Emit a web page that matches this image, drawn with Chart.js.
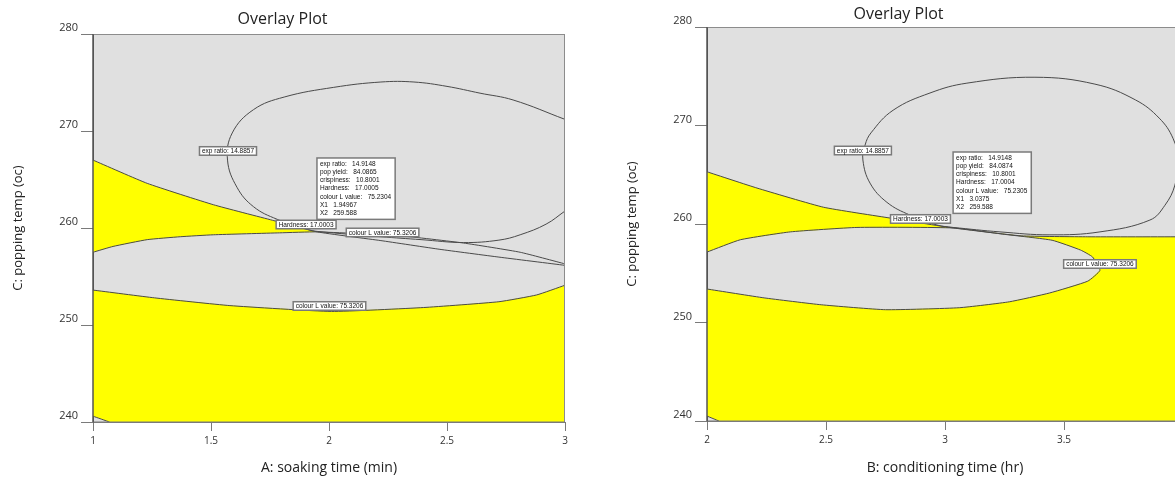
<!DOCTYPE html>
<html lang="en">
<head>
<meta charset="UTF-8">
<title>Overlay Plot</title>
<script src="https://cdn.jsdelivr.net/npm/chart.js"></script>
<style>
  html, body { margin: 0; padding: 0; background: #fff; overflow: hidden; }
  body { width: 1175px; height: 477px; position: relative; }
  .plot { position: absolute; top: 0; height: 477px; }
  #soakBox { left: 0; width: 590px; }
  #condBox { left: 614px; width: 600px; }
</style>
</head>
<body>
<div class="plot" id="soakBox"><canvas id="soakChart"></canvas></div>
<div class="plot" id="condBox"><canvas id="condChart"></canvas></div>
<script>
// tick labels
const tempTicks = [240, 250, 260, 270, 280];
const soakTicks = [1, 1.5, 2, 2.5, 3];
const condTicks = [2, 2.5, 3, 3.5, 4];

// ---- left plot: A soaking time (min) vs C popping temp ----
const soakHardness = [[1, 267.0], [1.23, 264.6], [1.51, 262.4], [1.76, 260.8], [1.95, 259.6],
  [2.22, 258.7], [2.47, 257.8], [2.72, 257.0], [3, 256.15]];
const soakColourUpper = [[1, 257.5], [1.085, 258.1], [1.23, 258.8], [1.37, 259.1], [1.51, 259.3],
  [1.79, 259.5], [1.95, 259.6], [2.30, 259.2], [2.57, 258.45], [2.81, 257.5], [3, 256.3]];
const soakColourLower = [[1, 253.6], [1.26, 252.8], [1.58, 252.0], [2.01, 251.4], [2.40, 251.8],
  [2.72, 252.4], [2.88, 253.1], [3, 254.1]];
const soakExpRatio = [[3, 271.2], [2.78, 273.2], [2.64, 273.9], [2.50, 274.6], [2.36, 275.05],
  [2.22, 275.05], [2.02, 274.5], [1.81, 273.5], [1.68, 272.2], [1.59, 269.8], [1.57, 267.0],
  [1.61, 264.2], [1.68, 262.2], [1.78, 260.9], [1.91, 259.85], [1.95, 259.65], [2.22, 259.1],
  [2.39, 258.8], [2.57, 258.5], [2.72, 258.75], [2.81, 259.3], [2.92, 260.4], [3, 261.75]];
const soakCorner = [[1, 240.6], [1.07, 240]];

const soakTags = [
  { x: 1.572, y: 267.94, text: "exp ratio: 14.8857" },
  { x: 1.903, y: 260.36, text: "Hardness: 17.0003" },
  { x: 2.227, y: 259.54, text: "colour L value: 75.3206" },
  { x: 2.002, y: 251.96, text: "colour L value: 75.3206" }
];
const soakSummary = ["exp ratio:   14.9148", "pop yield:   84.0865", "crispiness:   10.8001",
  "Hardness:   17.0005", "colour L value:   75.2304", "X1   1.94967", "X2   259.588"];
const soakSummaryAt = [1.949, 267.22];

// ---- right plot: B conditioning time (hr) vs C popping temp ----
const condHardness = [[2, 265.3], [2.21, 263.65], [2.49, 261.7], [2.77, 260.6], [3.034, 259.6],
  [3.32, 258.8], [3.6, 258.7], [4, 258.7]];
const condColourL = [[2, 257.15], [2.14, 258.4], [2.35, 259.2], [2.63, 259.65], [3.034, 259.6],
  [3.25, 258.95], [3.45, 258.35], [3.57, 257.35], [3.62, 256.65], [3.651, 255.3], [3.60, 254.2],
  [3.44, 253.0], [3.27, 252.1], [3.06, 251.5], [2.75, 251.3], [2.48, 251.8], [2.24, 252.5], [2, 253.4]];
const condExpRatio = [[3.034, 259.65], [2.966, 259.9], [2.853, 260.9], [2.756, 262.2], [2.685, 264.15],
  [2.655, 266.5], [2.664, 268.0], [2.689, 269.25], [2.782, 271.55], [2.937, 273.3], [3.092, 274.3],
  [3.378, 274.9], [3.63, 274.2], [3.80, 272.6], [3.90, 270.75], [3.958, 268.7], [3.979, 266.5],
  [3.966, 263.95], [3.924, 261.9], [3.861, 260.4], [3.651, 259.2], [3.441, 258.9], [3.231, 259.2],
  [3.034, 259.65]];
const condCorner = [[2, 240.5], [2.05, 240]];

const condTags = [
  { x: 2.655, y: 267.46, text: "exp ratio: 14.8857" },
  { x: 2.897, y: 260.51, text: "Hardness: 17.0003" },
  { x: 3.651, y: 255.94, text: "colour L value: 75.3206" }
];
const condSummary = ["exp ratio:   14.9148", "pop yield:   84.0874", "crispiness:   10.8001",
  "Hardness:   17.0004", "colour L value:   75.2305", "X1   3.0375", "X2   259.588"];
const condSummaryAt = [3.034, 267.31];

Chart.defaults.font.family = "'Open Sans', sans-serif";

const toXY = pts => pts.map(([x, y]) => ({ x, y }));

function contour(pts, tension) {
  return { data: toXY(pts), showLine: true, borderColor: "#4a4a4a", borderWidth: 1,
    pointRadius: 0, fill: false, tension: tension || 0.15 };
}

function region(pts) {
  return { data: toXY(pts), showLine: true, borderColor: "rgba(0,0,0,0)", borderWidth: 1,
    backgroundColor: "#ffff00", fill: "shape", pointRadius: 0, tension: 0 };
}

// grey background of the design space
const backdrop = {
  id: "backdrop",
  beforeDraw(chart) {
    const { ctx, chartArea: a } = chart;
    ctx.save();
    ctx.fillStyle = "#e0e0e0";
    ctx.fillRect(a.left, a.top, a.right - a.left, a.bottom - a.top);
    ctx.restore();
  }
};

// plot frame on top of the filled regions
const frame = {
  id: "frame",
  afterDatasetsDraw(chart) {
    const { ctx, chartArea: a } = chart;
    ctx.save();
    ctx.lineWidth = 1;
    ctx.strokeStyle = "#8c8c8c";
    ctx.beginPath();
    ctx.moveTo(a.left, a.top + 0.5); ctx.lineTo(a.right, a.top + 0.5);
    ctx.moveTo(a.right - 0.5, a.top); ctx.lineTo(a.right - 0.5, a.bottom);
    ctx.stroke();
    ctx.strokeStyle = "#7a7a7a";
    ctx.beginPath();
    ctx.moveTo(a.left, a.bottom); ctx.lineTo(a.right, a.bottom);
    ctx.stroke();
    ctx.strokeStyle = "#555";
    ctx.lineWidth = 1.5;
    ctx.beginPath();
    ctx.moveTo(a.left, a.top); ctx.lineTo(a.left, a.bottom);
    ctx.stroke();
    ctx.restore();
  }
};

function drawBox(ctx, x, y, w, h) {
  ctx.fillStyle = "#fff";
  ctx.fillRect(x, y, w, h);
  ctx.strokeStyle = "#7a7a7a";
  ctx.lineWidth = 1.5;
  ctx.strokeRect(x, y, w, h);
}

// contour labels and the optimum summary flag
function makeNotes(tags, summary, at) {
  return {
    id: "notes",
    afterDatasetsDraw(chart) {
      const { ctx } = chart;
      const xs = chart.scales.x, ys = chart.scales.y;
      ctx.save();
      ctx.font = "6.5px 'Liberation Sans', Arial, sans-serif";
      ctx.textBaseline = "middle";
      for (const t of tags) {
        const w = ctx.measureText(t.text).width + 5;
        const h = 8.5;
        const cx = xs.getPixelForValue(t.x), cy = ys.getPixelForValue(t.y);
        drawBox(ctx, cx - w / 2, cy - h / 2, w, h);
        ctx.fillStyle = "#111";
        ctx.fillText(t.text, cx - w / 2 + 2.5, cy + 0.5);
      }
      const lh = 8.2;
      const w = Math.max(...summary.map(s => ctx.measureText(s).width)) + 7;
      const h = summary.length * lh + 4;
      const bx = xs.getPixelForValue(at[0]), by = ys.getPixelForValue(at[1]);
      drawBox(ctx, bx, by, w, h);
      ctx.fillStyle = "#111";
      summary.forEach((s, i) => ctx.fillText(s, bx + 3, by + 2 + lh * (i + 0.5)));
      ctx.restore();
    }
  };
}

function axes(xTitle, xTicks, bottomSpace) {
  return {
    x: {
      type: "linear",
      min: xTicks[0],
      max: xTicks[xTicks.length - 1],
      afterBuildTicks: s => { s.ticks = xTicks.map(v => ({ value: v })); },
      afterFit: s => { s.height = bottomSpace; },
      grid: { drawOnChartArea: false, tickLength: 9, color: "#7a7a7a" },
      border: { display: true, color: "#7a7a7a" },
      ticks: { color: "#333", font: { size: 10 }, padding: 4, maxRotation: 0, autoSkip: false,
        callback: v => String(v) },
      title: { display: true, text: xTitle, color: "#222", font: { size: 14 },
        padding: { top: 0, bottom: 1 } }
    },
    y: {
      type: "linear",
      min: tempTicks[0],
      max: tempTicks[tempTicks.length - 1],
      afterBuildTicks: s => { s.ticks = tempTicks.map(v => ({ value: v })); },
      afterFit: s => { s.width = 93; },
      grid: { drawOnChartArea: false, tickLength: 12, color: "#7a7a7a" },
      border: { display: true, color: "#555" },
      ticks: { color: "#333", font: { size: 11 }, padding: 3, labelOffset: -6, autoSkip: false,
        callback: v => String(v) },
      title: { display: true, text: "C: popping temp (oc)", color: "#222", font: { size: 13 },
        padding: { top: 10, bottom: 0 } }
    }
  };
}

function overlayChart(id, datasets, scales, titlePad, rightPad, notes) {
  const ctx = document.getElementById(id).getContext("2d");
  return new Chart(ctx, {
    type: "scatter",
    data: { datasets: datasets },
    options: {
      responsive: true,
      maintainAspectRatio: false,
      animation: false,
      events: [],
      layout: { padding: { top: 0, left: 0, right: rightPad, bottom: 0 } },
      scales: scales,
      plugins: {
        legend: { display: false },
        tooltip: { enabled: false },
        title: { display: true, text: "Overlay Plot", color: "#222",
          font: { size: 16, weight: "normal" }, padding: titlePad }
      }
    },
    plugins: [backdrop, frame, notes]
  });
}

// left plot: lines first (drawn on top), yellow regions last
const soakWedge = soakHardness.slice(0, 5).concat(soakColourUpper.slice(0, 7).reverse());
const soakLow = soakColourLower.concat([[3, 240]], soakCorner.slice().reverse());

overlayChart("soakChart", [
  contour(soakHardness),
  contour(soakColourUpper),
  contour(soakColourLower),
  contour(soakExpRatio, 0.4),
  contour(soakCorner),
  region(soakWedge),
  region(soakLow)
], axes("A: soaking time (min)", soakTicks, 55), { top: 10, bottom: 4.8 }, 25,
  makeNotes(soakTags, soakSummary, soakSummaryAt));

// right plot
const condWedge = condHardness.slice(0, 5).concat(condColourL.slice(0, 5).reverse());
const condLow = condHardness.slice(4).concat([[4, 240]], condCorner.slice().reverse(),
  condColourL.slice(4).reverse());

overlayChart("condChart", [
  contour(condHardness),
  contour(condColourL),
  contour(condExpRatio, 0.4),
  contour(condCorner),
  region(condWedge),
  region(condLow)
], axes("B: conditioning time (hr)", condTicks, 56), { top: 4.4, bottom: 3.4 }, 31,
  makeNotes(condTags, condSummary, condSummaryAt));
</script>
</body>
</html>
